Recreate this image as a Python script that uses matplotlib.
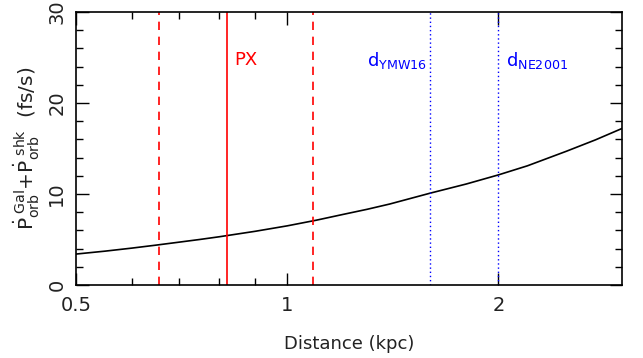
import numpy as np
import matplotlib
matplotlib.use('Agg')
import matplotlib.pyplot as plt
from matplotlib.ticker import FixedLocator, NullFormatter, MultipleLocator

# Pdot_orb (Gal + shk) versus distance
dist = [0.5, 0.55, 0.6, 0.65, 0.7, 0.75, 0.8, 0.9, 1.0, 1.1, 1.2, 1.3, 1.4,
        1.6, 1.8, 2.0, 2.2, 2.5, 2.75, 3.0]
pdot = [3.4, 3.72, 4.05, 4.38, 4.7, 5.0, 5.3, 5.9, 6.5, 7.12, 7.75, 8.32, 8.9,
        10.1, 11.1, 12.1, 13.1, 14.7, 15.95, 17.2]

# distance estimates (kpc)
d_px = 0.82
d_px_lo = 0.657
d_px_hi = 1.088
d_ymw16 = 1.60
d_ne2001 = 2.0

plt.rcParams['font.family'] = ['DejaVu Sans']
plt.rcParams['mathtext.fontset'] = 'dejavusans'

fig = plt.figure(figsize=(6.43, 3.58), dpi=100)
ax = fig.add_axes([76/643, 1 - 285/358, (622 - 76)/643, (285 - 12)/358])

ax.plot(dist, pdot, color='black', lw=1.2)

ax.axvline(d_px, color='red', lw=1.2)
ax.axvline(d_px_lo, color='red', lw=1.2, ls=(0, (5, 4)))
ax.axvline(d_px_hi, color='red', lw=1.2, ls=(0, (5, 4)))
ax.axvline(d_ymw16, color='blue', lw=1.0, ls=(0, (1, 2)))
ax.axvline(d_ne2001, color='blue', lw=1.0, ls=(0, (1, 2)))

ax.text(0.84, 24.7, 'PX', color='red', fontsize=13, va='center', ha='left')
ax.text(1.30, 24.7, r'd$_{\mathrm{YMW16}}$', color='blue', fontsize=13, va='center', ha='left')
ax.text(2.05, 24.7, r'd$_{\mathrm{NE2001}}$', color='blue', fontsize=13, va='center', ha='left')

ax.set_xscale('log')
ax.set_xlim(0.5, 3.0)
ax.set_ylim(0, 30)

ax.xaxis.set_major_locator(FixedLocator([0.5, 1, 2]))
ax.xaxis.set_minor_locator(FixedLocator([0.6, 0.7, 0.8, 0.9]))
ax.xaxis.set_minor_formatter(NullFormatter())
ax.set_xticklabels(['0.5', '1', '2'])
ax.yaxis.set_major_locator(MultipleLocator(10))
ax.yaxis.set_minor_locator(MultipleLocator(2))

ax.tick_params(which='both', direction='in', top=True, right=True, labelsize=14,
               width=1, labelcolor='#222222')
ax.tick_params(which='major', length=9)
ax.tick_params(which='minor', length=5)
ax.tick_params(axis='x', pad=8)
ax.tick_params(axis='y', pad=7)
for lab in ax.get_yticklabels():
    lab.set_rotation(90)
    lab.set_va('center')

for s in ax.spines.values():
    s.set_linewidth(1.2)

ax.set_xlabel('Distance (kpc)', fontsize=13, labelpad=14, color='#222222')
ax.set_ylabel(r'$\dot{\mathrm{P}}_{\mathrm{orb}}^{\ \mathrm{Gal}}$+$\dot{\mathrm{P}}_{\mathrm{orb}}^{\ \mathrm{shk}}$  (fs/s)',
              fontsize=14.5, labelpad=4, color='#222222')

fig.savefig('out.png', dpi=100)
